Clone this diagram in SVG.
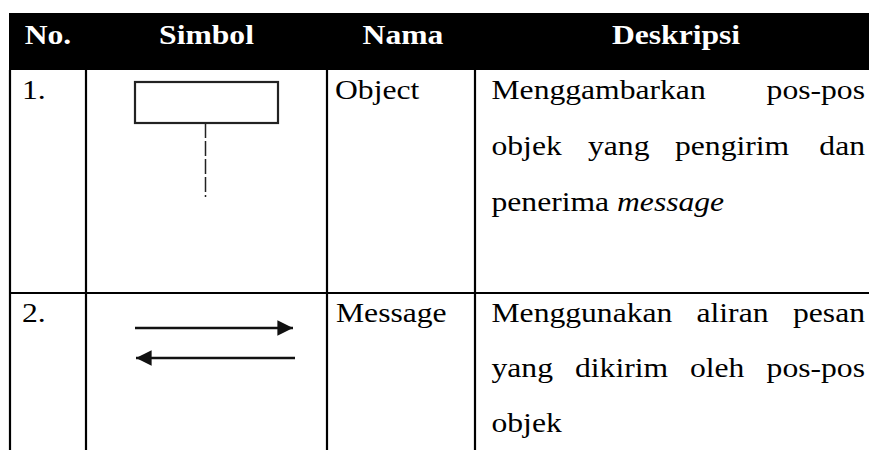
<svg xmlns="http://www.w3.org/2000/svg" width="869" height="450" viewBox="0 0 869 450">
  <style>
    .t { font-family: "Liberation Serif", "Times New Roman", serif; font-size: 27.5px; fill: #000; }
    .h { font-family: "Liberation Serif", "Times New Roman", serif; font-size: 27.5px; font-weight: bold; fill: #fff; text-anchor: middle; }
    .end { text-anchor: end; }
    .grid { stroke: #000; stroke-width: 2.2; fill: none; }
    .sym { stroke: #222; stroke-width: 2.2; fill: none; }
    .life { stroke: #222; stroke-width: 1.5; stroke-dasharray: 15 3; fill: none; }
    .msg { stroke: #111; stroke-width: 2.4; fill: none; }
  </style>
  <defs>
    <marker id="head" viewBox="0 0 10 10" refX="10" refY="5" markerWidth="6.5" markerHeight="6.5" orient="auto" markerUnits="strokeWidth">
      <path d="M0,0 L10,5 L0,10 Z" fill="#111"/>
    </marker>
  </defs>

  <rect width="869" height="450" fill="#fff"/>

  <!-- header band -->
  <g id="header">
    <rect x="9" y="13" width="860" height="57" fill="#000"/>
    <text class="h" transform="translate(48 43.5) scale(1.15 1)">No.</text>
    <text class="h" transform="translate(206.5 43.5) scale(1.15 1)">Simbol</text>
    <text class="h" transform="translate(403 43.5) scale(1.15 1)">Nama</text>
    <text class="h" transform="translate(676 43.5) scale(1.15 1)">Deskripsi</text>
  </g>

  <!-- table rules -->
  <g id="grid" class="grid">
    <line x1="10" y1="70" x2="10" y2="450"/>
    <line x1="86" y1="70" x2="86" y2="450"/>
    <line x1="327" y1="70" x2="327" y2="450"/>
    <line x1="475" y1="70" x2="475" y2="450"/>
    <line x1="9" y1="293" x2="869" y2="293"/>
  </g>

  <!-- row 1: object -->
  <g id="row-object">
    <text class="t" transform="translate(22 99) scale(1.15 1)">1.</text>
    <g id="object-symbol">
      <rect class="sym" x="135" y="82" width="143" height="41"/>
      <line class="life" x1="205.5" y1="123" x2="205.5" y2="197"/>
    </g>
    <text class="t" transform="translate(335 99) scale(1.15 1)">Object</text>
    <text class="t" transform="translate(491.5 99) scale(1.15 1)">Menggambarkan</text>
    <text class="t end" transform="translate(865 99) scale(1.15 1)">pos-pos</text>
    <text class="t" transform="translate(491.5 155) scale(1.15 1)">objek</text>
    <text class="t" transform="translate(588 155) scale(1.15 1)">yang</text>
    <text class="t" transform="translate(675 155) scale(1.15 1)">pengirim</text>
    <text class="t end" transform="translate(865 155) scale(1.15 1)">dan</text>
    <text class="t" transform="translate(491.5 211) scale(1.15 1)">penerima <tspan font-style="italic">message</tspan></text>
  </g>

  <!-- row 2: message -->
  <g id="row-message">
    <text class="t" transform="translate(22 322) scale(1.15 1)">2.</text>
    <g id="connectors">
      <line class="msg" x1="135" y1="328" x2="293" y2="328" marker-end="url(#head)"/>
      <line class="msg" x1="295" y1="358" x2="136" y2="358" marker-end="url(#head)"/>
    </g>
    <text class="t" transform="translate(336 322) scale(1.15 1)">Message</text>
    <text class="t" transform="translate(491.5 322) scale(1.15 1)">Menggunakan</text>
    <text class="t" transform="translate(696.5 322) scale(1.15 1)">aliran</text>
    <text class="t end" transform="translate(865 322) scale(1.15 1)">pesan</text>
    <text class="t" transform="translate(491.5 377) scale(1.15 1)">yang</text>
    <text class="t" transform="translate(575 377) scale(1.15 1)">dikirim</text>
    <text class="t" transform="translate(690 377) scale(1.15 1)">oleh</text>
    <text class="t end" transform="translate(865 377) scale(1.15 1)">pos-pos</text>
    <text class="t" transform="translate(491.5 432) scale(1.15 1)">objek</text>
  </g>
</svg>
